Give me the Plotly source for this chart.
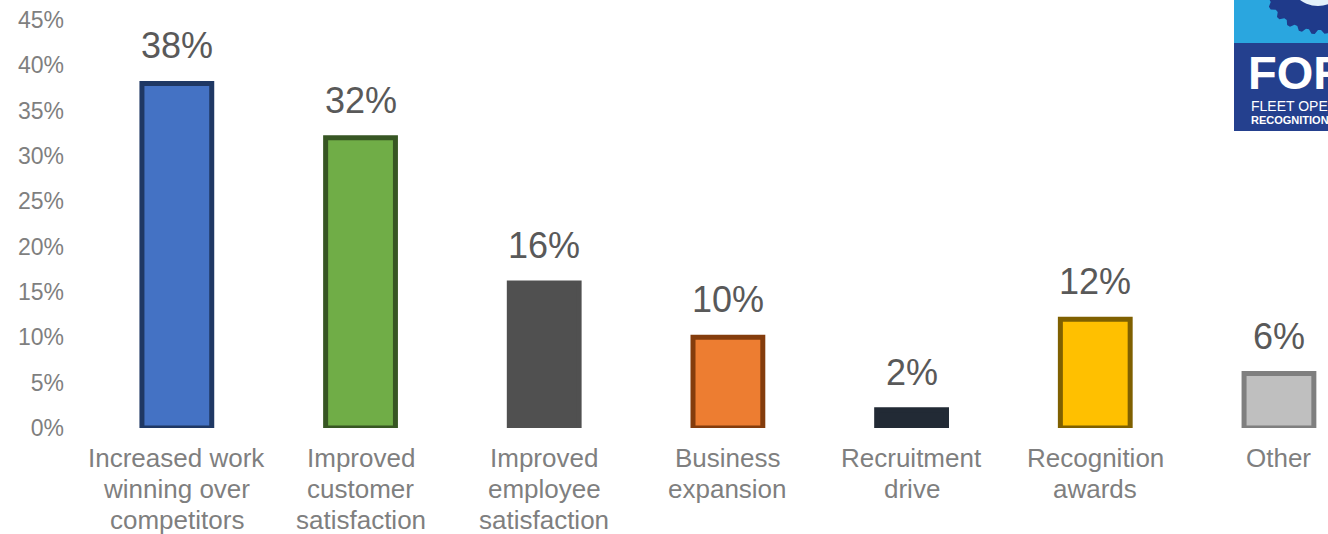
import math
import plotly.graph_objects as go

# Survey results: business benefits reported
categories = [
    "Increased work<br>winning over<br>competitors",
    "Improved<br>customer<br>satisfaction",
    "Improved<br>employee<br>satisfaction",
    "Business<br>expansion",
    "Recruitment<br>drive",
    "Recognition<br>awards",
    "Other",
]
values = [38, 32, 16, 10, 2, 12, 6]
fill_colors = ["#4472C4", "#70AD47", "#505050", "#ED7D31", "#222A35", "#FFC000", "#BFBFBF"]
line_colors = ["#1F3864", "#375623", "#505050", "#843C0C", "#222A35", "#7F6000", "#7F7F7F"]
y_ticks = [0, 5, 10, 15, 20, 25, 30, 35, 40, 45]
y_tick_labels = [f"{t}%" for t in y_ticks]

W, H = 1328, 534
M_L, M_R, M_T, M_B = 85, 0, 20, 106
FONT = "Liberation Sans, Arial, sans-serif"
LABEL_GRAY = "#7F7F7F"

idx = list(range(len(categories)))

fig = go.Figure(
    go.Bar(
        x=idx,
        y=values,
        width=0.38,
        marker=dict(color=fill_colors, line=dict(color=line_colors, width=5)),
        hoverinfo="skip",
    )
)

# value labels above each bar
for i, v in zip(idx, values):
    fig.add_annotation(
        x=i, y=v, text=f"{v}%", showarrow=False, yanchor="bottom", yshift=15,
        font=dict(family=FONT, size=36, color="#595959"),
    )

# category labels under the axis, one annotation per line for tight line spacing
for i, cat in zip(idx, categories):
    for j, line in enumerate(cat.split("<br>")):
        fig.add_annotation(
            x=i, y=0, text=line, showarrow=False, yanchor="middle",
            yshift=-(30 + 31 * j),
            font=dict(family=FONT, size=26, color=LABEL_GRAY),
        )

# ---- FORS logo, drawn in pixel space converted to paper coordinates ----
plot_w = W - M_L - M_R
plot_h = H - M_T - M_B


def px(x):
    return (x - M_L) / plot_w


def py(y):
    return (H - M_B - y) / plot_h


LOGO_L, LOGO_R, LOGO_MID, LOGO_B = 1234, 1340, 43, 131
shapes = [
    dict(type="rect", xref="paper", yref="paper", x0=px(LOGO_L), x1=px(LOGO_R),
         y0=py(-5), y1=py(LOGO_MID), fillcolor="#2AA6DF", line=dict(width=0), layer="above"),
    dict(type="rect", xref="paper", yref="paper", x0=px(LOGO_L), x1=px(LOGO_R),
         y0=py(LOGO_MID), y1=py(LOGO_B), fillcolor="#24408E", line=dict(width=0), layer="above"),
]

# gear ring at the top of the logo
cx, cy, r_out, r_tooth, n_teeth = 1318, -24, 54, 58, 28
pts = []
for k in range(n_teeth * 4):
    a = 2 * math.pi * k / (n_teeth * 4)
    r = r_tooth if (k % 4) in (1, 2) else r_out
    pts.append((cx + r * math.cos(a), cy + r * math.sin(a)))
gear_path = "M " + " L ".join(f"{px(x):.5f},{py(y):.5f}" for x, y in pts) + " Z"
shapes.append(dict(type="path", xref="paper", yref="paper", path=gear_path,
                   fillcolor="#1F3A8A", line=dict(width=0), layer="above"))
shapes.append(dict(type="circle", xref="paper", yref="paper",
                   x0=px(cx - 30), x1=px(cx + 30), y0=py(cy + 30), y1=py(cy - 30),
                   fillcolor="#E3F1FA", line=dict(width=0), layer="above"))

fig.add_annotation(xref="paper", yref="paper", x=px(1247), y=py(45), xanchor="left",
                   yanchor="top", text="<b>FORS</b>", showarrow=False,
                   font=dict(family=FONT, size=47, color="white"), borderpad=0)
fig.add_annotation(xref="paper", yref="paper", x=px(1250), y=py(97), xanchor="left",
                   yanchor="top", text="FLEET OPERATOR", showarrow=False,
                   font=dict(family=FONT, size=14, color="white"), borderpad=0)
fig.add_annotation(xref="paper", yref="paper", x=px(1250), y=py(113), xanchor="left",
                   yanchor="top", text="<b>RECOGNITION SCHEME</b>", showarrow=False,
                   font=dict(family=FONT, size=11, color="white"), borderpad=0)

fig.update_layout(
    width=W, height=H,
    margin=dict(l=M_L, r=M_R, t=M_T, b=M_B, autoexpand=False),
    paper_bgcolor="white", plot_bgcolor="white",
    showlegend=False,
    shapes=shapes,
    xaxis=dict(
        range=[-0.5, 6.267], tickvals=idx, showticklabels=False,
        showgrid=False, zeroline=False, showline=False, ticks="",
        automargin=False, fixedrange=True,
    ),
    yaxis=dict(
        range=[0, 45], tickvals=y_ticks, ticktext=y_tick_labels,
        showgrid=False, zeroline=False, showline=False, ticks="",
        tickfont=dict(family=FONT, size=23, color=LABEL_GRAY),
        ticklabelstandoff=20, automargin=False, fixedrange=True,
    ),
)

fig.write_html("out.html")
